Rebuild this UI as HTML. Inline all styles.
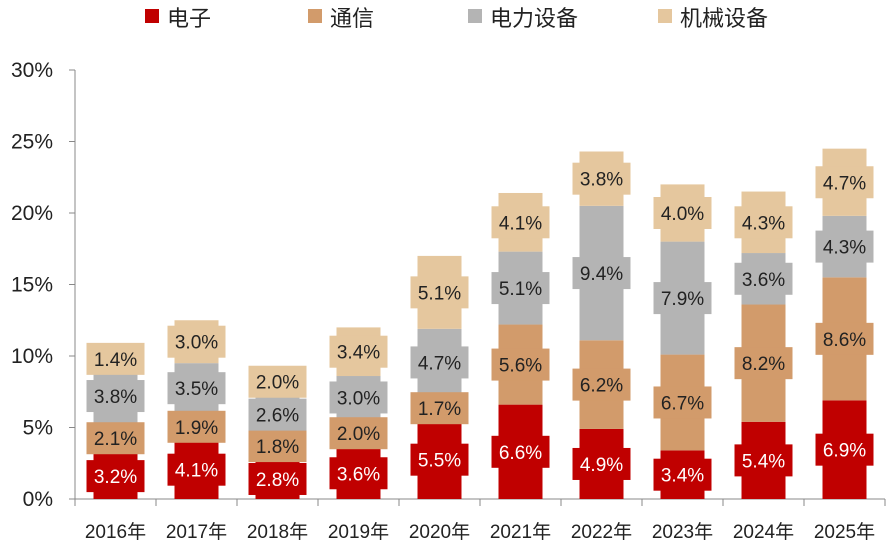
<!DOCTYPE html>
<html><head><meta charset="utf-8"><style>
body{margin:0;background:#fff}
svg{display:block;font-family:"Liberation Sans","Noto Sans CJK SC",sans-serif}
</style></head><body>
<svg width="892" height="550" viewBox="0 0 892 550">
<g id="legend"></g>
<g id="axes"></g>
<g id="bars"></g>
</svg>
<script>
const categories=["2016年","2017年","2018年","2019年","2020年","2021年","2022年","2023年","2024年","2025年"];
const seriesNames=["电子","通信","电力设备","机械设备"];
const electronics=[3.2,4.1,2.8,3.6,5.5,6.6,4.9,3.4,5.4,6.9];
const telecom=[2.1,1.9,1.8,2.0,1.7,5.6,6.2,6.7,8.2,8.6];
const power=[3.8,3.5,2.6,3.0,4.7,5.1,9.4,7.9,3.6,4.3];
const machinery=[1.4,3.0,2.0,3.4,5.1,4.1,3.8,4.0,4.3,4.7];
const yTicks=[0,5,10,15,20,25,30];
const colors=["#c00000","#d29b6b","#b4b4b4","#e5c79e"];
const textColors=["#fff","#222","#222","#222"];
const NS="http://www.w3.org/2000/svg";
const x0=75,x1=885,yBase=499,yTop=70;
const y=v=>yBase-(v/30)*(yBase-yTop);
const band=(x1-x0)/categories.length;
const xc=i=>x0+band*(i+0.5);
function mk(tag,attrs,parent){const e=document.createElementNS(NS,tag);for(const k in attrs)e.setAttribute(k,attrs[k]);parent.appendChild(e);return e;}
const axes=document.getElementById('axes');
let l=mk('line',{x1:x0,y1:yTop,x2:x0,y2:yBase,stroke:'#888','stroke-width':1},axes);


l=mk('line',{x1:x0,y1:yBase,x2:x1,y2:yBase,stroke:'#888','stroke-width':1},axes);


yTicks.forEach(t=>{
 mk('line',{x1:x0-6,y1:y(t),x2:x0,y2:y(t),stroke:'#888'},axes);
 const tx=mk('text',{x:x0-22,y:y(t)+7,'text-anchor':'end','font-size':21,fill:'#222'},axes);
 tx.textContent=t+'%';
 
 
});
for(let i=0;i<=categories.length;i++){mk('line',{x1:x0+band*i,y1:yBase,x2:x0+band*i,y2:yBase+7,stroke:'#888'},axes);}
categories.forEach((c,i)=>{
 const tx=mk('text',{x:xc(i),y:538,'text-anchor':'middle','font-size':19,fill:'#222'},axes);
 tx.textContent=c;
 
 
});
const lg=document.getElementById('legend');
const lgX=[145,308,468,658];
seriesNames.forEach((n,i)=>{
 const r=mk('rect',{x:lgX[i],y:9,width:14,height:14,fill:colors[i]},lg);
 
 
 const t=mk('text',{x:lgX[i]+22,y:26,'font-size':22,fill:'#222'},lg);
 t.textContent=n;
 
 
});
const bars=document.getElementById('bars');
const series=[electronics,telecom,power,machinery];
categories.forEach((c,i)=>{
 let cum=0;
 const segs=[];
 series.forEach((s,k)=>{
  const v=s[i];const yt=y(cum+v),yb=y(cum);
  const r=mk('rect',{x:xc(i)-22,y:yt,width:44,height:yb-yt,fill:colors[k]},bars);
  
  
  segs.push({k,v,mid:(yt+yb)/2});
  cum+=v;
 });
 segs.forEach(s=>{
  const b=mk('rect',{x:xc(i)-29,y:s.mid-16,width:58,height:32,fill:colors[s.k]},bars);
  
  
  const t=mk('text',{x:xc(i),y:s.mid+7,'text-anchor':'middle','font-size':19,fill:textColors[s.k]},bars);
  t.textContent=s.v.toFixed(1)+'%';
  
  
 });
});
</script>
</body></html>
